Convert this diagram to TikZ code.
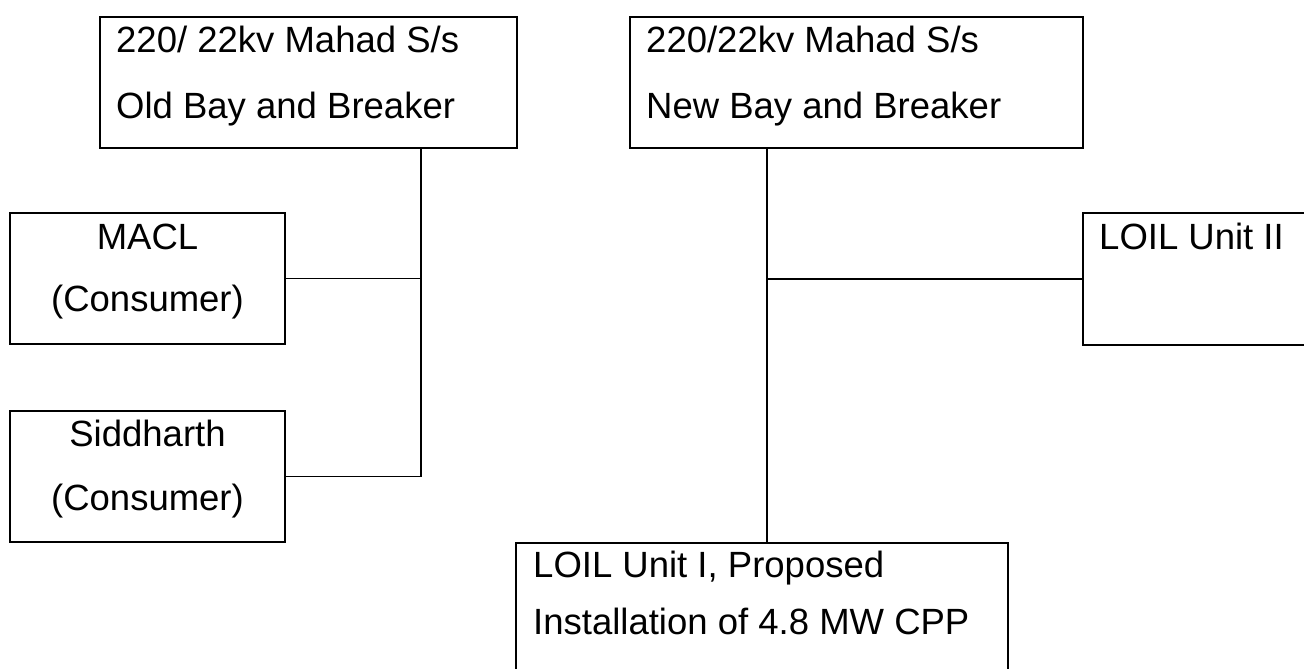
\documentclass[tikz,border=0pt]{standalone}
\usepackage{fontspec}
\setmainfont{Liberation Sans}
\begin{document}
\begin{tikzpicture}[x=1pt,y=-1pt,
  box/.style={draw=black, line width=2pt, rectangle, inner sep=0pt},
  conn/.style={draw=black, line width=1.5pt},
  lbl/.style={inner sep=0pt, font=\fontsize{36.5}{42}\selectfont, text=black}]
\useasboundingbox (0,0) rectangle (1304,669);
\clip (0,0) rectangle (1304,669);
\fill[white] (0,0) rectangle (1304,669);
% boxes
\node[box, minimum width=416.5pt, minimum height=130.5pt] (old) at (308.25,82.25) {};
\node[box, minimum width=453pt, minimum height=130.5pt] (new) at (856.5,82.25) {};
\node[box, minimum width=275pt, minimum height=131pt] (macl) at (147.5,278.5) {};
\node[box, minimum width=275pt, minimum height=131pt] (sidd) at (147.5,476.5) {};
\node[box, minimum width=257pt, minimum height=132pt] (loiltwo) at (1211.5,279) {};
\node[box, minimum width=492pt, minimum height=157pt] (loilone) at (762,621.5) {};
% texts
\node[lbl, anchor=base west] (oldA) at (116,53) {220/ 22kv Mahad S/s};
\node[lbl, anchor=base west] (oldB) at (116,118) {Old Bay and Breaker};
\node[lbl, anchor=base west] (newA) at (646,53) {220/22kv Mahad S/s};
\node[lbl, anchor=base west] (newB) at (646,118) {New Bay and Breaker};
\node[lbl, anchor=base] (maclA) at (147.5,249) {MACL};
\node[lbl, anchor=base] (maclB) at (147.5,311) {(Consumer)};
\node[lbl, anchor=base] (siddA) at (147.5,446) {Siddharth};
\node[lbl, anchor=base] (siddB) at (147.5,510) {(Consumer)};
\node[lbl, anchor=base west] (loiltwoA) at (1099,249) {LOIL Unit II};
\node[lbl, anchor=base west] (loiloneA) at (533,577) {LOIL Unit I, Proposed};
\node[lbl, anchor=base west] (loiloneB) at (533,634) {Installation of 4.8 MW CPP};
% connectors
\coordinate (jold) at (421,0);
\coordinate (jnew) at (767,0);
\draw[conn] (old.south -| jold) |- (sidd.east);
\draw[conn] (macl.east) -- (macl.east -| jold);
\draw[conn] (new.south -| jnew) -- (loilone.north -| jnew);
\draw[conn] (loiltwo.west) -- (loiltwo.west -| jnew);
\end{tikzpicture}
\end{document}
